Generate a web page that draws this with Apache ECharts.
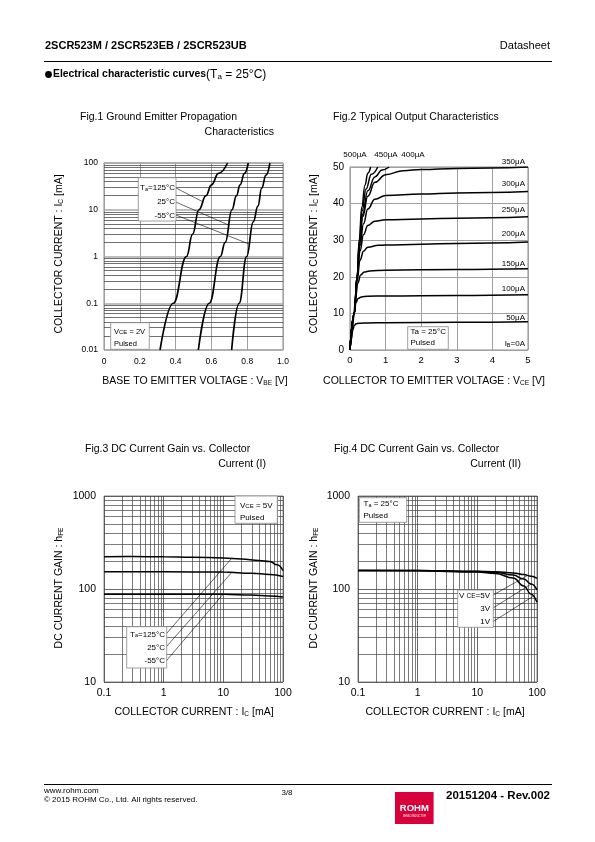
<!DOCTYPE html>
<html><head><meta charset="utf-8">
<script src="https://cdn.jsdelivr.net/npm/echarts/dist/echarts.min.js"></script>
<style>html,body{margin:0;padding:0;background:#fff}#c{width:595px;height:842px}</style>
</head><body><div id="c"></div>
<script>
// ---------- DATA ----------
// Fig.1  [VBE (V), IC (mA)]
const fig1_T125 = [[0.313,0.01],[0.387,0.1],[0.461,1],[0.495,3],[0.53,10],[0.57,20],[0.60,34],[0.64,60],[0.69,100]];
const fig1_T25  = [[0.527,0.01],[0.588,0.1],[0.65,1],[0.677,2],[0.715,10],[0.74,20],[0.76,34],[0.785,60],[0.806,100]];
const fig1_Tm55 = [[0.713,0.01],[0.755,0.1],[0.797,1],[0.834,5.5],[0.86,12],[0.881,29],[0.905,55],[0.927,100]];
const fig1XTicks = ['0','0.2','0.4','0.6','0.8','1.0'];
const fig1YTicks = ['0.01','0.1','1','10','100'];

// Fig.2  [VCE (V), IC (mA)] per IB
const fig2_IB50  = [[0,0],[0.04,3],[0.08,5.5],[0.12,6.7],[0.17,7.15],[0.25,7.3],[0.5,7.4],[1,7.45],[3,7.55],[5,7.7]];
const fig2_IB100 = [[0,0],[0.07,6],[0.12,10.5],[0.17,13],[0.23,14.1],[0.32,14.5],[0.5,14.7],[1,14.75],[3,14.9],[5,15.1]];
const fig2_IB150 = [[0,0],[0.1,9],[0.16,14.5],[0.22,18.3],[0.3,20.5],[0.4,21.3],[0.55,21.6],[1,21.8],[3,22],[5,22.2]];
const fig2_IB200 = [[0,0],[0.12,10],[0.2,19],[0.28,24.5],[0.38,27],[0.5,28.1],[0.8,28.6],[1,28.7],[3,29.1],[5,29.5]];
const fig2_IB250 = [[0,0],[0.12,10],[0.2,19.8],[0.28,27],[0.38,31.5],[0.5,34],[0.7,35.2],[1,35.6],[3,36],[5,36.4]];
const fig2_IB300 = [[0,0],[0.12,10],[0.2,20],[0.28,28.5],[0.38,34.5],[0.5,38.5],[0.7,41.2],[1,42.2],[2,42.6],[3,42.9],[5,43.3]];
const fig2_IB350 = [[0,0],[0.12,10],[0.2,20],[0.27,29],[0.36,36.5],[0.5,42],[0.7,45.8],[1,47.9],[1.5,49],[2,49.3],[3,49.6],[5,50]];
const fig2_IB400 = [[0,0],[0.12,10],[0.2,20],[0.27,29.5],[0.35,37],[0.5,43.5],[0.7,47.3],[0.9,49.2],[1.1,50]];
const fig2_IB450 = [[0,0],[0.12,10],[0.2,20],[0.26,29.8],[0.34,38],[0.45,44],[0.6,48],[0.78,50]];
const fig2_IB500 = [[0,0],[0.12,10],[0.2,20],[0.26,30],[0.33,39],[0.42,45],[0.5,48.3],[0.58,50]];
const fig2XTicks = ['0','1','2','3','4','5'];
const fig2YTicks = ['0','10','20','30','40','50'];

// Fig.3  [IC (mA), hFE]
const fig3_T125 = [[0.1,222],[0.3,223],[1,222],[3,220],[10,215],[20,210],[40,203],[60,198],[80,182],[100,158]];
const fig3_T25  = [[0.1,153],[1,153],[10,152],[30,148],[60,143],[100,136]];
const fig3_Tm55 = [[0.1,88],[1,88],[10,88],[30,86],[60,84],[100,82]];
// Fig.4  [IC (mA), hFE]
const fig4_V5 = [[0.1,158],[1,158],[10,155],[20,153],[40,149],[60,143],[80,137],[100,130]];
const fig4_V3 = [[0.1,158],[1,158],[10,154],[20,151],[40,141],[60,128],[80,113],[100,98]];
const fig4_V1 = [[0.1,158],[1,157],[10,152],[20,147],[40,131],[60,108],[80,88],[100,72]];
const fig34XTicks = ['0.1','1','10','100'];
const fig34YTicks = ['10','100','1000'];

// ---------- helpers ----------
const FF = '"Liberation Sans", Arial, sans-serif';
function minors(e0, e1){ const o=[]; for(let e=e0;e<e1;e++) for(let k=2;k<=9;k++) o.push(parseFloat((k*Math.pow(10,e)).toPrecision(3))); return o; }
function curve(i, data, w){ return {type:'line', xAxisIndex:i, yAxisIndex:i, data, showSymbol:false, symbol:'none', smooth:0.45, smoothMonotone:'x', lineStyle:{color:'#000', width:w}, z:5, animation:false, silent:true}; }
function mlines(i, items, color, width, z){ return {type:'line', xAxisIndex:i, yAxisIndex:i, data:[], z:z, clip:false, silent:true, animation:false,
  markLine:{symbol:['none','none'], silent:true, animation:false, label:{show:false}, lineStyle:{color:color, width:width, type:'solid'}, data:items}}; }
function seg(a,b){ return [{coord:a},{coord:b}]; }
function lab(fs, m, fmt){ return {fontSize:fs, color:'#000', fontFamily:FF, margin:m, formatter:fmt}; }
function logIdx(v, off){ return Math.round(Math.log10(v))+off; }
const noLine = {show:false}, noTick = {show:false};

function T(x,y,text,o){ o=o||{}; const fs=o.fs||10.5; const al=o.align||'left';
  return {type:'text', x:x, y:y, rotation:o.rot||0, z:100, silent:true,
  style:{text:text, fill:o.fill||'#000', fontSize:fs, fontFamily:FF, fontWeight:o.fw||'normal',
    align:al, verticalAlign:'middle', textAlign:al, textVerticalAlign:'middle',
    rich:{sub:{fontSize:o.subfs||6.5, fontFamily:FF, verticalAlign:'bottom', fill:o.fill||'#000'},
          b:{fontSize:o.bfs||fs, fontFamily:FF, fontWeight:'bold', fill:'#000'}}}}; }
function R(x,y,w,h){ return {type:'rect', z:90, silent:true, shape:{x:x,y:y,width:w,height:h}, style:{fill:'#fff', stroke:'#888', lineWidth:0.8}}; }

const chart = echarts.init(document.getElementById('c'), null, {renderer:'canvas'});

const gridBase = {show:true, borderColor:'#8a8a8a', borderWidth:1, backgroundColor:'transparent'};
const option = {
  backgroundColor:'#fff',
  animation:false,
  grid:[
    Object.assign({left:104, top:163, width:179, height:187}, gridBase),
    Object.assign({left:350, top:167, width:178, height:183}, gridBase),
    Object.assign({left:104, top:496, width:179, height:186}, gridBase),
    Object.assign({left:358, top:496, width:179, height:186}, gridBase)
  ],
  xAxis:[
    {gridIndex:0, type:'value', min:0, max:1, interval:0.2, axisLine:noLine, axisTick:noTick,
      splitLine:{lineStyle:{color:'#a0a0a0', width:1}}, axisLabel:lab(8.5,7,v=>fig1XTicks[Math.round(v*5)])},
    {gridIndex:1, type:'value', min:0, max:5, interval:1, axisLine:noLine, axisTick:noTick,
      splitLine:{lineStyle:{color:'#a0a0a0', width:1}}, axisLabel:lab(9.5,5,v=>fig2XTicks[Math.round(v)])},
    {gridIndex:2, type:'log', logBase:10, min:0.1, max:100, splitNumber:3, axisLine:noLine, axisTick:noTick,
      splitLine:{lineStyle:{color:'#444', width:0.8}}, axisLabel:lab(10.5,6,v=>fig34XTicks[logIdx(v,1)])},
    {gridIndex:3, type:'log', logBase:10, min:0.1, max:100, splitNumber:3, axisLine:noLine, axisTick:noTick,
      splitLine:{lineStyle:{color:'#444', width:0.8}}, axisLabel:lab(10.5,6,v=>fig34XTicks[logIdx(v,1)])}
  ],
  yAxis:[
    {gridIndex:0, type:'log', logBase:10, min:0.01, max:100, splitNumber:4, axisLine:noLine, axisTick:noTick,
      splitLine:{lineStyle:{color:'#a8a8a8', width:1.6}}, axisLabel:lab(8.5,6,v=>fig1YTicks[logIdx(v,2)])},
    {gridIndex:1, type:'value', min:0, max:50, interval:10, axisLine:noLine, axisTick:noTick,
      splitLine:{lineStyle:{color:'#a0a0a0', width:1}}, axisLabel:lab(10,6,v=>fig2YTicks[Math.round(v/10)])},
    {gridIndex:2, type:'log', logBase:10, min:10, max:1000, splitNumber:2, axisLine:noLine, axisTick:noTick,
      splitLine:{lineStyle:{color:'#444', width:0.8}}, axisLabel:lab(10.5,8,v=>fig34YTicks[logIdx(v,-1)])},
    {gridIndex:3, type:'log', logBase:10, min:10, max:1000, splitNumber:2, axisLine:noLine, axisTick:noTick,
      splitLine:{lineStyle:{color:'#444', width:0.8}}, axisLabel:lab(10.5,8,v=>fig34YTicks[logIdx(v,-1)])}
  ],
  series:[
    // minor log grid lines
    mlines(0, minors(-2,2).map(v=>({yAxis:v})), '#333', 0.7, 1),
    mlines(2, minors(1,3).map(v=>({yAxis:v})).concat(minors(-1,2).map(v=>({xAxis:v}))), '#444', 0.7, 1),
    mlines(3, minors(1,3).map(v=>({yAxis:v})).concat(minors(-1,2).map(v=>({xAxis:v}))), '#444', 0.7, 1),
    // Fig.1
    curve(0, fig1_T125, 1.7), curve(0, fig1_T25, 1.7), curve(0, fig1_Tm55, 1.7),
    mlines(0, [seg([0.402,29.2],[0.555,14.6]), seg([0.402,14.6],[0.697,4.7]), seg([0.402,7.7],[0.81,1.85])], '#000', 0.6, 6),
    // Fig.2
    curve(1, fig2_IB50, 1.5), curve(1, fig2_IB100, 1.5), curve(1, fig2_IB150, 1.5), curve(1, fig2_IB200, 1.5),
    curve(1, fig2_IB250, 1.5), curve(1, fig2_IB300, 1.5), curve(1, fig2_IB350, 1.5), curve(1, fig2_IB400, 1.5),
    curve(1, fig2_IB450, 1.5), curve(1, fig2_IB500, 1.5),
    mlines(1, [seg([0.37,51.9],[0.56,49.5]), seg([0.93,52.3],[0.76,49.8]), seg([1.55,52.3],[1.08,49.9])], '#000', 0.6, 6),
    // Fig.3
    curve(2, fig3_T125, 1.5), curve(2, fig3_T25, 1.5), curve(2, fig3_Tm55, 1.5),
    mlines(2, [seg([1.1,32.8],[14,216]), seg([1.1,23.8],[14,152]), seg([1.1,16.8],[9.9,88])], '#000', 0.6, 6),
    // Fig.4
    curve(3, fig4_V5, 1.5), curve(3, fig4_V3, 1.5), curve(3, fig4_V1, 1.5),
    mlines(3, [seg([18.3,86],[70,140]), seg([18.3,62.5],[80,113]), seg([18.3,44.5],[90,85])], '#000', 0.6, 6)
  ],
  graphic:[
    // header
    T(45,45.5,'2SCR523M / 2SCR523EB / 2SCR523UB',{fs:11,fw:'bold'}),
    T(550,45.5,'Datasheet',{fs:11,align:'right'}),
    {type:'line', z:100, silent:true, shape:{x1:44,y1:61.5,x2:552,y2:61.5}, style:{stroke:'#000', lineWidth:1.2}},
    {type:'circle', z:100, silent:true, shape:{cx:48.5,cy:74.5,r:3.4}, style:{fill:'#000'}},
    T(53,74.5,'{b|Electrical characteristic curves}(T{sub|a} = 25°C)',{fs:12,bfs:10.4,subfs:8}),
    // titles
    T(80,117.5,'Fig.1 Ground Emitter Propagation',{fs:10.5}),
    T(274,132,'Characteristics',{fs:10.5,align:'right'}),
    T(333,117.5,'Fig.2 Typical Output Characteristics',{fs:10.5}),
    T(85,449,'Fig.3 DC Current Gain vs. Collector',{fs:10.5}),
    T(266,464.5,'Current (I)',{fs:10.5,align:'right'}),
    T(334,449,'Fig.4 DC Current Gain vs. Collector',{fs:10.5}),
    T(521,464.5,'Current (II)',{fs:10.5,align:'right'}),
    // axis names
    T(195,381,'BASE TO EMITTER VOLTAGE : V{sub|BE} [V]',{fs:10.5,align:'center'}),
    T(59,254,'COLLECTOR CURRENT : I{sub|C} [mA]',{fs:10.5,rot:Math.PI/2,align:'center'}),
    T(434,381,'COLLECTOR TO EMITTER VOLTAGE : V{sub|CE} [V]',{fs:10.5,align:'center'}),
    T(314,254,'COLLECTOR CURRENT : I{sub|C} [mA]',{fs:10.5,rot:Math.PI/2,align:'center'}),
    T(194,712,'COLLECTOR CURRENT : I{sub|C} [mA]',{fs:10.5,align:'center'}),
    T(59,588,'DC CURRENT GAIN : h{sub|FE}',{fs:10.5,rot:Math.PI/2,align:'center'}),
    T(445,712,'COLLECTOR CURRENT : I{sub|C} [mA]',{fs:10.5,align:'center'}),
    T(314,588,'DC CURRENT GAIN : h{sub|FE}',{fs:10.5,rot:Math.PI/2,align:'center'}),
    // Fig.1 annotations
    R(138.3,177.7,37.7,43.3),
    T(175,188,'T{sub|a}=125°C',{fs:8,subfs:5.5,align:'right'}),
    T(175,202,'25°C',{fs:8,align:'right'}),
    T(175,215.5,'-55°C',{fs:8,align:'right'}),
    R(110.7,322.7,38.6,26.6),
    T(114,331.5,'V{sub|CE} = 2V',{fs:7.5,subfs:6}),
    T(114,344,'Pulsed',{fs:7.5}),
    // Fig.2 annotations
    T(355,155,'500μA',{fs:8,align:'center'}),
    T(386,155,'450μA',{fs:8,align:'center'}),
    T(413,155,'400μA',{fs:8,align:'center'}),
    T(525,161.5,'350μA',{fs:8,align:'right'}),
    T(525,184,'300μA',{fs:8,align:'right'}),
    T(525,209.5,'250μA',{fs:8,align:'right'}),
    T(525,233.5,'200μA',{fs:8,align:'right'}),
    T(525,264,'150μA',{fs:8,align:'right'}),
    T(525,289,'100μA',{fs:8,align:'right'}),
    T(525,317.5,'50μA',{fs:8,align:'right'}),
    T(525,344,'I{sub|B}=0A',{fs:8,align:'right',subfs:5.5}),
    R(407.7,326.7,40.6,22.6),
    T(410.5,332,'Ta = 25°C',{fs:8}),
    T(410.5,343,'Pulsed',{fs:8}),
    // Fig.3 annotations
    R(235,496,42.3,27.3),
    T(240,505.5,'V{sub|CE} = 5V',{fs:8,subfs:6}),
    T(240,518,'Pulsed',{fs:8}),
    R(126.7,626.7,40,41.3),
    T(165,634.5,'T{sub|a}=125°C',{fs:8,align:'right',subfs:5.5}),
    T(165,647.5,'25°C',{fs:8,align:'right'}),
    T(165,661,'-55°C',{fs:8,align:'right'}),
    // Fig.4 annotations
    R(359.3,497.7,47.4,24.6),
    T(363.5,504,'T{sub|a} = 25°C',{fs:8,subfs:5.5}),
    T(363.5,516,'Pulsed',{fs:8}),
    R(457.7,590,35.6,37.3),
    T(490,596,'V {sub|CE}=5V',{fs:8,align:'right',subfs:6.5}),
    T(490,608.5,'3V',{fs:8,align:'right'}),
    T(490,621.5,'1V',{fs:8,align:'right'}),
    // footer
    {type:'line', z:100, silent:true, shape:{x1:44,y1:784.5,x2:552,y2:784.5}, style:{stroke:'#000', lineWidth:1}},
    T(44,790.5,'www.rohm.com',{fs:8}),
    T(44,799.5,'© 2015 ROHM Co., Ltd. All rights reserved.',{fs:8}),
    T(287,792.5,'3/8',{fs:8,align:'center'}),
    {type:'rect', z:100, silent:true, shape:{x:395,y:792,width:38.6,height:32}, style:{fill:'#d7003a'}},
    T(414.3,808.5,'ROHM',{fs:9.5,fw:'bold',align:'center',fill:'#fff'}),
    T(414.3,816,'SEMICONDUCTOR',{fs:2.6,align:'center',fill:'#fff'}),
    T(550,796,'20151204 - Rev.002',{fs:11.5,fw:'bold',align:'right'})
  ]
};
chart.setOption(option);
</script></body></html>
